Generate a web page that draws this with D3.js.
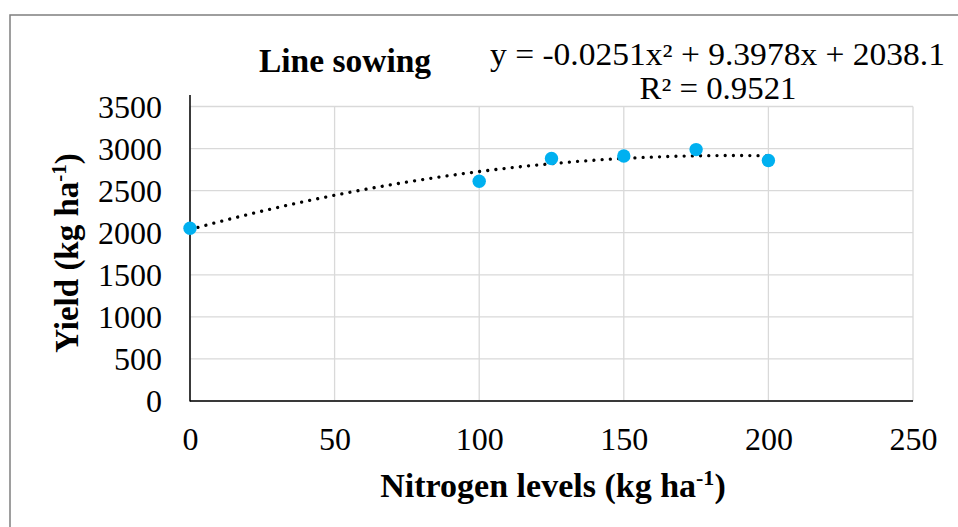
<!DOCTYPE html>
<html><head><meta charset="utf-8">
<script src="https://cdn.jsdelivr.net/npm/d3@7"></script>
<style>body{margin:0;background:#fff}svg{display:block}text{font-family:"Liberation Serif","Times New Roman",serif;fill:#000}</style>
</head><body><svg id="c" width="958" height="527"></svg>
<script>
const nitrogen = [0, 100, 125, 150, 175, 200];
const yieldVals = [2053, 2612, 2882, 2912, 2988, 2858];
const xTicks = [0, 50, 100, 150, 200, 250];
const yTicks = [0, 500, 1000, 1500, 2000, 2500, 3000, 3500];
const coef = [-0.0251, 9.3978, 2038.1]; // trendline coefficients a, b, c
const titleText = "Line sowing";
const eqText = "y = -0.0251x² + 9.3978x + 2038.1";
const r2Text = "R² = 0.9521";

const svg = d3.select("#c");
const L = 190, R = 913, T = 106.5, B = 401;
const x = d3.scaleLinear().domain([0, 250]).range([L, R]);
const y = d3.scaleLinear().domain([0, 3500]).range([B, T]);

// outer frame
svg.append("rect").attr("x", 10).attr("y", 15).attr("width", 1000).attr("height", 600)
  .attr("fill", "none").attr("stroke", "#7f7f7f").attr("stroke-width", 1.5);

// gridlines
svg.append("g").selectAll("line").data(yTicks).join("line")
  .attr("x1", L).attr("x2", R).attr("y1", d => y(d)).attr("y2", d => y(d))
  .attr("stroke", "#d9d9d9").attr("stroke-width", 1.3);
svg.append("g").selectAll("line").data(xTicks).join("line")
  .attr("y1", T).attr("y2", B).attr("x1", d => x(d)).attr("x2", d => x(d))
  .attr("stroke", "#d9d9d9").attr("stroke-width", 1.3);

// axes
const yAxis = d3.axisLeft(y).tickValues(yTicks).tickFormat(d3.format("d")).tickSize(0).tickPadding(28);
const gy = svg.append("g").attr("transform", `translate(${L},0)`).call(yAxis);
gy.select(".domain").remove();
gy.selectAll("text").attr("font-size", 32).attr("font-family", "Liberation Serif").attr("dy", "0.33em");
const xAxis = d3.axisBottom(x).tickValues(xTicks).tickFormat(d3.format("d")).tickSize(0).tickPadding(26);
const gx = svg.append("g").attr("transform", `translate(0,${B})`).call(xAxis);
gx.select(".domain").remove();
gx.selectAll("text").attr("font-size", 32).attr("font-family", "Liberation Serif");

svg.append("line").attr("x1", L).attr("x2", L).attr("y1", 95).attr("y2", B + 0.5)
  .attr("stroke", "#000").attr("stroke-width", 1.5);
svg.append("line").attr("x1", L).attr("x2", R).attr("y1", B).attr("y2", B)
  .attr("stroke", "#000").attr("stroke-width", 1.5);

// trendline (polynomial from coefficients shown in the chart)
const tx = d3.range(0, 200.01, 2);
const line = d3.line().x(d => x(d)).y(d => y(coef[0]*d*d + coef[1]*d + coef[2]));
svg.append("path").attr("d", line(tx)).attr("fill", "none").attr("stroke", "#000")
  .attr("stroke-width", 3.3).attr("stroke-linecap", "round").attr("stroke-dasharray", "0.01 8.2");

// points
svg.append("g").selectAll("circle").data(nitrogen).join("circle")
  .attr("cx", d => x(d)).attr("cy", (d, i) => y(yieldVals[i])).attr("r", 6.7)
  .attr("fill", "#00b0f0");

// title & equation
svg.append("text").attr("x", 345).attr("y", 72).attr("text-anchor", "middle")
  .attr("font-size", 33.5).attr("font-weight", "bold").text(titleText);
svg.append("text").attr("x", 717.5).attr("y", 65).attr("text-anchor", "middle")
  .attr("font-size", 31).attr("textLength", 455).attr("lengthAdjust", "spacingAndGlyphs").text(eqText);
svg.append("text").attr("x", 718).attr("y", 99).attr("text-anchor", "middle")
  .attr("font-size", 31).attr("textLength", 157).attr("lengthAdjust", "spacingAndGlyphs").text(r2Text);

// axis titles
const xt = svg.append("text").attr("x", 553).attr("y", 497).attr("text-anchor", "middle")
  .attr("font-size", 34).attr("font-weight", "bold");
xt.append("tspan").text("Nitrogen levels (kg ha");
xt.append("tspan").attr("font-size", 22).attr("dy", -12).text("-1");
xt.append("tspan").attr("dy", 12).text(")");

const yt = svg.append("text").attr("transform", "translate(78,253) rotate(-90)").attr("text-anchor", "middle")
  .attr("font-size", 33).attr("font-weight", "bold");
yt.append("tspan").text("Yield (kg ha");
yt.append("tspan").attr("font-size", 21).attr("dy", -12).text("-1");
yt.append("tspan").attr("dy", 12).text(")");
</script></body></html>
